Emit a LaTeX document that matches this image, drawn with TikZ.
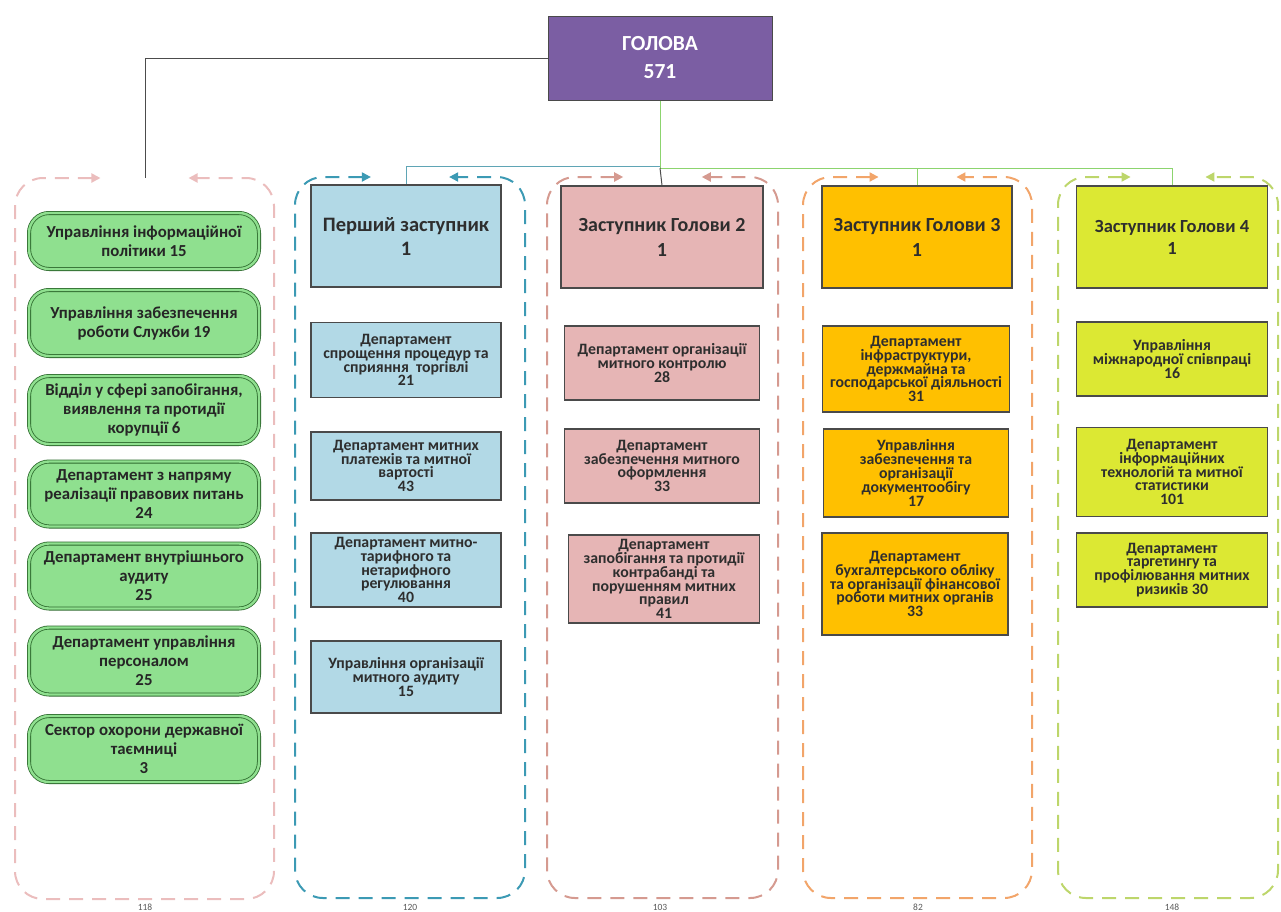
\documentclass[tikz,border=0pt]{standalone}
\usepackage{fontspec}
\setmainfont{Carlito}
\usetikzlibrary{arrows.meta}
\definecolor{headpurple}{HTML}{7B5EA3}
\definecolor{greenfill}{HTML}{8FE08F}
\definecolor{greenline}{HTML}{2E6B2E}
\definecolor{bluefill}{HTML}{B2D9E6}
\definecolor{pinkfill}{HTML}{E6B5B5}
\definecolor{orangefill}{HTML}{FFC000}
\definecolor{limefill}{HTML}{DCE833}
\definecolor{contA}{HTML}{EBBDBD}
\definecolor{contB}{HTML}{3C9AB4}
\definecolor{contC}{HTML}{D59A90}
\definecolor{contD}{HTML}{F2A56A}
\definecolor{contE}{HTML}{BDD66B}
\definecolor{boxborder}{HTML}{4A4A4A}
\definecolor{txt}{HTML}{2E2E2E}
\definecolor{tealline}{HTML}{5FA5B5}
\definecolor{greenconn}{HTML}{8CD46E}
\newcommand\dashcont[5]{%
  \pgfmathsetmacro\cxa{#2+0.33*(#3-#2)}%
  \pgfmathsetmacro\cxb{#2+0.67*(#3-#2)}%
  \draw[cont,#1] (\cxa,#4) -- (#2,#4) -- (#2,#5) -- (#3,#5) -- (#3,#4) -- (\cxb,#4);
}
\tikzset{
  cont/.style={line width=2pt, dash pattern=on 14pt off 9pt, rounded corners=28pt,
    {Triangle[length=9pt,width=9pt]}-{Triangle[length=9pt,width=9pt]}},
  greenbox/.style={draw=greenline, line width=0.8pt, double=greenfill, double distance=2.4pt,
    fill=greenfill, rounded corners=20pt, minimum width=230, align=center, inner sep=0pt,
    text=black!85, font=\fontsize{16.8}{19}\selectfont\bfseries},
  dept/.style={draw=boxborder, line width=1.3pt, align=center, inner sep=0pt, text=txt,
    font=\fontsize{15.8}{13.8}\selectfont\bfseries},
  deputy/.style={dept, font=\fontsize{20}{25}\selectfont\bfseries},
  lbl/.style={font=\fontsize{9.5}{9.5}\selectfont, text=black!65},
  conn/.style={line width=1pt}
}
\begin{document}
\begin{tikzpicture}[x=1pt,y=-1pt]
\useasboundingbox (0,0) rectangle (1281,911);
% containers
\dashcont{contA}{15}{274}{178}{899}
\dashcont{contB}{295}{525}{177}{898}
\dashcont{contC}{547}{778}{177}{898}
\dashcont{contD}{803}{1032}{177}{898}
\dashcont{contE}{1058}{1278}{177}{898}
% head
\node[draw=boxborder, line width=1pt, fill=headpurple, minimum width=224, minimum height=84,
  text=white, align=center, font=\fontsize{21.5}{28}\selectfont\bfseries] (head) at (660,58) {ГОЛОВА\\571};
% column 0
\node[greenbox, minimum height=56] (g1) at (144,241) {Управління інформаційної\\політики 15};
\node[greenbox, minimum height=66] (g2) at (144,323) {Управління забезпечення\\роботи Служби 19};
\node[greenbox, minimum height=68] (g3) at (144,410) {Відділ у сфері запобігання,\\виявлення та протидії\\корупції 6};
\node[greenbox, minimum height=65] (g4) at (144,494) {Департамент з напряму\\реалізації правових питань\\24};
\node[greenbox, minimum height=65] (g5) at (144,576) {Департамент внутрішнього\\аудиту\\25};
\node[greenbox, minimum height=67] (g6) at (144,661) {Департамент управління\\персоналом\\25};
\node[greenbox, minimum height=66] (g7) at (144,749) {Сектор охорони державної\\таємниці\\3};
% column 1
\node[deputy, fill=bluefill, minimum width=190, minimum height=102, font=\fontsize{20.5}{24}\selectfont\bfseries] (b1) at (406,236) {Перший заступник\\1};
\node[dept, fill=bluefill, minimum width=190, minimum height=75] (b11) at (406,360) {Департамент\\спрощення процедур та\\сприяння~ торгівлі\\21};
\node[dept, fill=bluefill, minimum width=190, minimum height=68] (b12) at (406,466) {Департамент митних\\платежів та митної\\вартості\\43};
\node[dept, fill=bluefill, minimum width=190, minimum height=74] (b13) at (406,570) {Департамент митно-\\тарифного та\\нетарифного\\регулювання\\40};
\node[dept, fill=bluefill, minimum width=190, minimum height=72] (b14) at (406,677) {Управління організації\\митного аудиту\\15};
% column 2
\node[deputy, fill=pinkfill, minimum width=202, minimum height=102] (b2) at (662,237) {Заступник Голови 2\\1};
\node[dept, fill=pinkfill, minimum width=195, minimum height=74] (b21) at (662,363) {Департамент організації\\митного контролю\\28};
\node[dept, fill=pinkfill, minimum width=195, minimum height=74] (b22) at (662,466) {Департамент\\забезпечення митного\\оформлення\\33};
\node[dept, fill=pinkfill, minimum width=191, minimum height=88] (b23) at (664,579) {Департамент\\запобігання та протидії\\контрабанді та\\порушенням митних\\правил\\41};
% column 3
\node[deputy, fill=orangefill, minimum width=190, minimum height=102] (b3) at (917,237) {Заступник Голови 3\\1};
\node[dept, fill=orangefill, minimum width=187, minimum height=86] (b31) at (916,369) {Департамент\\інфраструктури,\\держмайна та\\господарської діяльності\\31};
\node[dept, fill=orangefill, minimum width=185, minimum height=88] (b32) at (916,473) {Управління\\забезпечення та\\організації\\документообігу\\17};
\node[dept, fill=orangefill, minimum width=186, minimum height=102] (b33) at (915,584) {Департамент\\бухгалтерського обліку\\та організації фінансової\\роботи митних органів\\33};
% column 4
\node[deputy, fill=limefill, minimum width=191, minimum height=102, font=\fontsize{18.5}{22}\selectfont\bfseries] (b4) at (1172,237) {Заступник Голови 4\\1};
\node[dept, fill=limefill, minimum width=191, minimum height=74] (b41) at (1172,359) {Управління\\міжнародної співпраці\\16};
\node[dept, fill=limefill, minimum width=191, minimum height=89] (b42) at (1172,472) {Департамент\\інформаційних\\технологій та митної\\статистики\\101};
\node[dept, fill=limefill, minimum width=191, minimum height=74] (b43) at (1172,570) {Департамент\\таргетингу та\\профілювання митних\\ризиків 30};
% connectors
\coordinate (c0top) at (145,178);
\coordinate (jn) at (660,168);
\coordinate (jt) at (660,166);
\draw[conn, draw=black!70] (head.west) -| (c0top);
\draw[conn, draw=greenconn] (head.south) -- (jn) -| (b4.north);
\draw[conn, draw=greenconn] (jn) -| (b3.north);
\draw[conn, draw=tealline] (jt) -| (b1.north);
\draw[conn, draw=black!70] (jn) -- (b2.north);
% totals
\node[lbl] (t0) at (145,907) {118};
\node[lbl] (t1) at (410,907) {120};
\node[lbl] (t2) at (660,907) {103};
\node[lbl] (t3) at (918,907) {82};
\node[lbl] (t4) at (1172,907) {148};
\end{tikzpicture}
\end{document}
